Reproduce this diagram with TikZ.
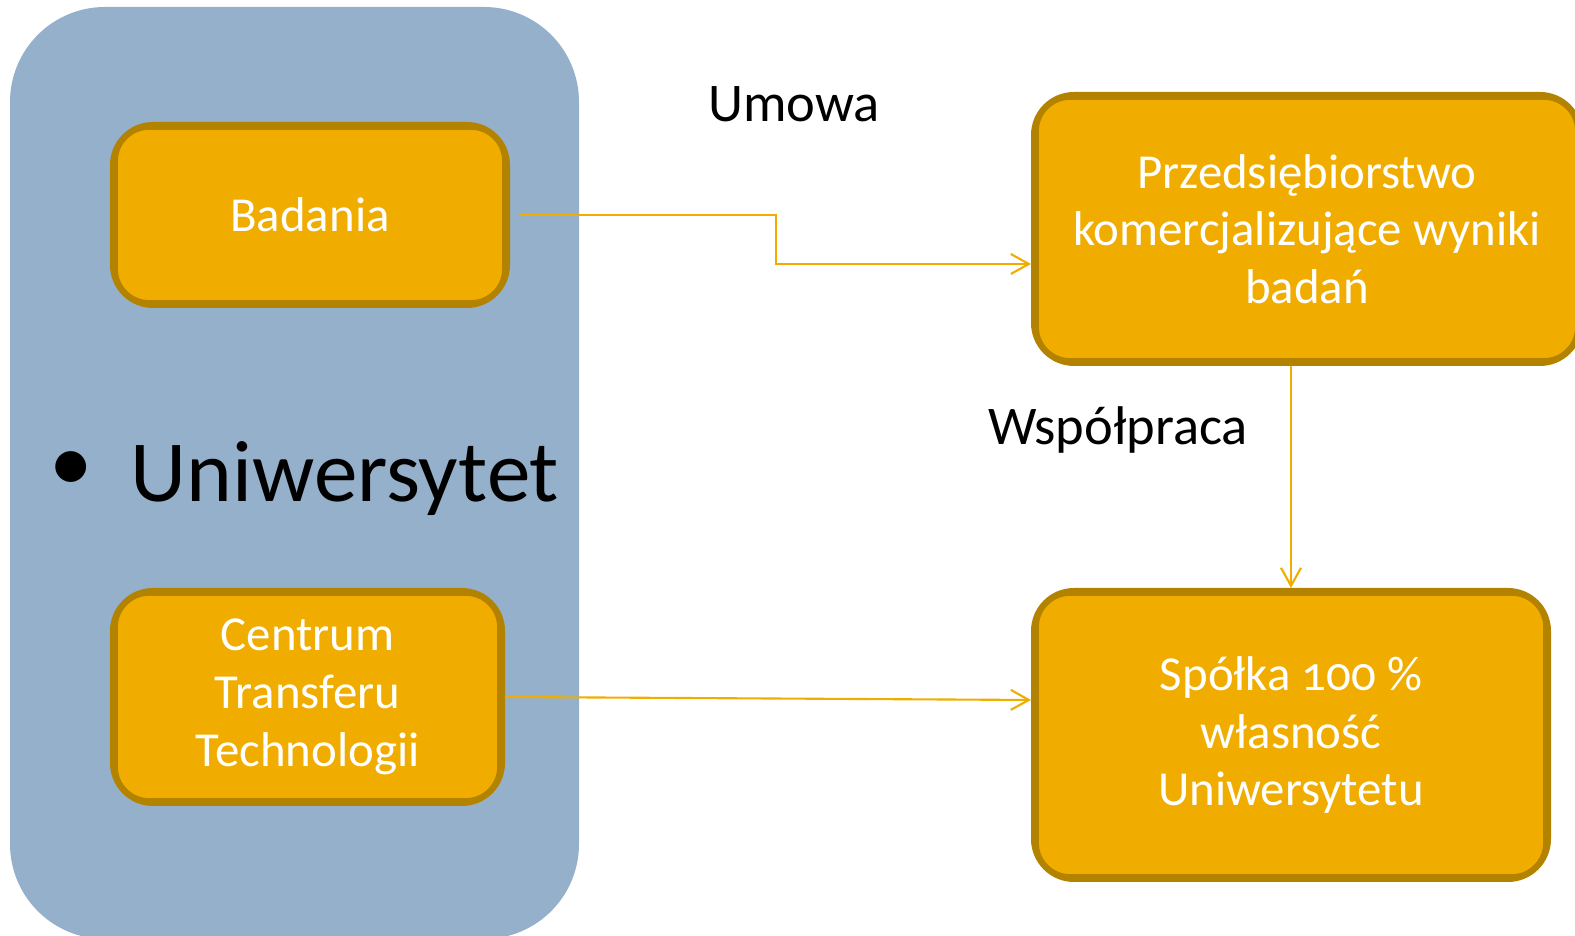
\documentclass[tikz,border=0pt]{standalone}
\usepackage{fontspec}
\setmainfont{Carlito}[Numbers=OldStyle]
\usepackage{xcolor}
\usepackage{tikz}
\usetikzlibrary{arrows.meta}
\usetikzlibrary{positioning}
\usetikzlibrary{calc}

\definecolor{uniblue}{RGB}{149,176,203}
\definecolor{gfill}{RGB}{240,173,0}
\definecolor{gdark}{RGB}{179,131,0}

\tikzset{
  box/.style={rectangle,rounded corners=0.4cm,fill=gfill,draw=gdark,line width=0.06cm,
    text=white,align=center,font=\fontsize{13.9}{16.4}\selectfont},
  innerline/.style={draw=gdark,line width=0.5pt,rounded corners=0.32cm},
  conn/.style={draw=gfill,line width=0.6pt,-{Straight Barb[length=1.8mm,width=2mm]}},
  lbl/.style={text=black,font=\fontsize{15.5}{18}\selectfont}
}

\begin{document}
\begin{tikzpicture}
        \useasboundingbox (0,0) rectangle (15.75,9.36);
        \fill[uniblue,rounded corners=0.95cm] (0.10,-0.03) rectangle (5.79,9.29);
        \node[box,minimum width=3.94cm,minimum height=1.80cm] (bad) at (3.10,7.21) {Badania};
        \node[box,minimum width=3.89cm,minimum height=2.12cm] (cen) at (3.075,2.39) {Centrum\\Transferu\\Technologii};
        \node[box,minimum width=5.46cm,minimum height=2.68cm] (prz) at (13.07,7.07) {Przedsiębiorstwo\\komercjalizujące wyniki\\badań};
        \node[box,minimum width=5.14cm,minimum height=2.88cm] (spo) at (12.91,2.01) {Spółka 100 \%\\własność\\Uniwersytetu};
        \foreach \n in {bad,cen,prz,spo}
          \draw[innerline] ($(\n.south west)+(0.07,0.07)$) rectangle ($(\n.north east)-(0.07,0.07)$);
        \node[text=black,font=\fontsize{24.8}{29}\selectfont] (dot) at (0.71,4.64) {\textbullet};
        \node[text=black,font=\fontsize{24.8}{29}\selectfont,anchor=base west,inner sep=0pt] (uni) at (1.30,4.34) {Uniwersytet};
        \node[lbl] (umowa) at (7.94,8.32) {Umowa};
        \node[lbl] (wsp) at (11.18,5.06) {Współpraca};
        % connectors
        \draw[conn] ([xshift=1mm]bad.east) -- ++(2.56,0) |- ([yshift=-3.5mm]prz.west);
        \draw[conn] (spo.north |- prz.south) -- (spo.north);
        \draw[conn] (cen.east) -- ([yshift=3.5mm]spo.west);
    \end{tikzpicture}
\end{document}
